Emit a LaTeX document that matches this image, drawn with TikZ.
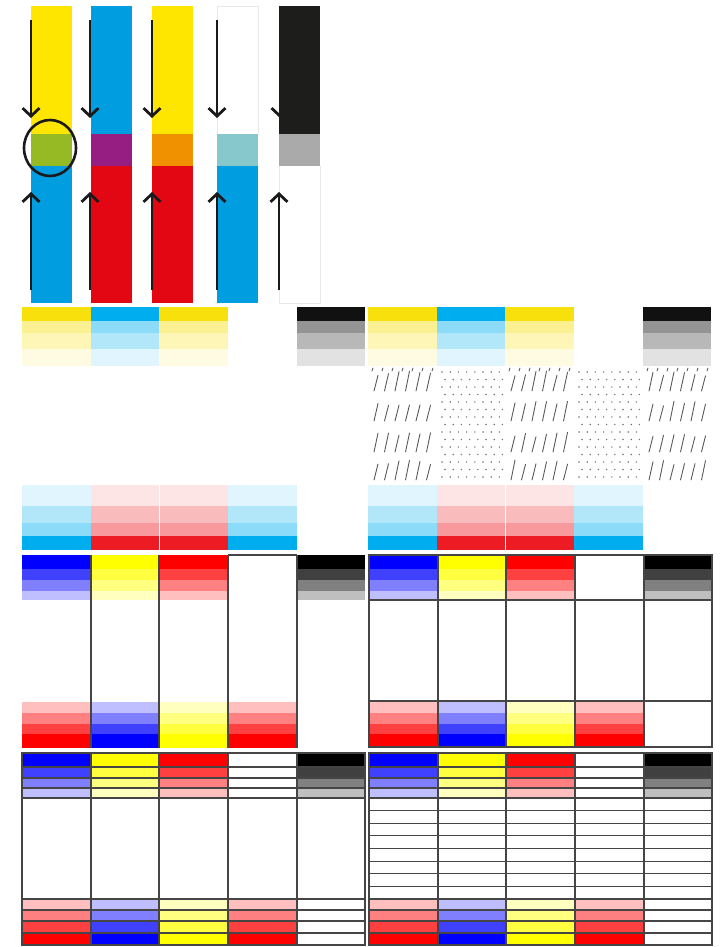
\documentclass[tikz,border=0pt]{standalone}
\usetikzlibrary{arrows.meta}
\definecolor{BarYellow}{RGB}{255,230,0}
\definecolor{BarCyan}{RGB}{0,158,224}
\definecolor{BarRed}{RGB}{227,6,19}
\definecolor{BarGreen}{RGB}{149,186,36}
\definecolor{BarPurple}{RGB}{150,30,130}
\definecolor{BarOrange}{RGB}{240,145,0}
\definecolor{BarTeal}{RGB}{135,200,205}
\definecolor{BarGray}{RGB}{170,170,170}
\definecolor{BarBlack}{RGB}{29,29,27}
\definecolor{BarInk}{RGB}{26,26,26}
\definecolor{MidYellow}{RGB}{248,224,12}
\definecolor{MidCyan}{RGB}{0,174,239}
\definecolor{MidRed}{RGB}{237,28,36}
\definecolor{MidBlack}{RGB}{17,17,17}
\definecolor{PureBlue}{RGB}{0,0,255}
\definecolor{PureYellow}{RGB}{255,255,0}
\definecolor{PureRed}{RGB}{255,0,0}
\definecolor{GridInk}{gray}{0.27}
\definecolor{HatchInk}{gray}{0.35}
\tikzset{
    chart/scene/.style={x=1pt, y=-1pt},
    chart/arrow/.style={
        draw=BarInk, line width=2.8pt,
        -{Straight Barb[length=8pt, width=17pt]}
    },
    chart/ring/.style={draw=BarInk, line width=2.6pt},
    chart/frame/.style={draw=gray!18, line width=0.6pt},
    chart/rule/.style={draw=GridInk, line width=1.1pt},
    chart/hatch/.style={draw=HatchInk, line width=0.9pt, line cap=round},
    chart/dot/.style={fill=HatchInk!85}
}
\begin{document}
\begin{tikzpicture}[chart/scene]
    \useasboundingbox (0,0) rectangle (725,947);
    \pgfmathsetseed{7}
    % five bars, two inks meeting in the middle band
    \draw[chart/arrow] (280,20) -- (280,118); % mostly under the black bar
    \foreach \xa/\upper/\meet/\lower in {31/BarYellow/BarGreen/BarCyan,
        91/BarCyan/BarPurple/BarRed, 152/BarYellow/BarOrange/BarRed,
        217/white/BarTeal/BarCyan, 279/BarBlack/BarGray/white}{
        \fill[\upper] (\xa,6) rectangle ++(41,128);
        \fill[\meet] (\xa,134) rectangle ++(41,32);
        \fill[\lower] (\xa,166) rectangle ++(41,137);
    }
    \draw[chart/frame] (217,134) |- (258,6) -- (258,134);
    \draw[chart/frame] (279,166) |- (320,303) -- (320,166);
    \draw[chart/ring] (50,148) ellipse [x radius=26, y radius=28];
    \foreach \x in {31,90,152,217}
        \draw[chart/arrow] (\x,20) -- (\x,118);
    \foreach \x in {31,90,152,217,279}
        \draw[chart/arrow] (\x,290) -- (\x,192);

    % process tints, both halves
    \def\MidTop{307/321/100, 321/333/45, 333/349/30, 349/366/12}
    \def\MidBot{485/506/12, 506/523/30, 523/536/45, 536/550/100}
    \foreach \sh in {0,346}{
        \begin{scope}[xshift=\sh]
            \foreach \xa/\xb/\ink in {22/91/MidYellow, 91/159/MidCyan,
                159/228/MidYellow, 297/365/MidBlack}
                \foreach \ya/\yb/\t in \MidTop
                    \fill[\ink!\t!white] (\xa,\ya) rectangle (\xb,\yb);
            \foreach \xa/\xb/\ink in {22/91/MidCyan, 91/159/MidRed,
                159/228/MidRed, 228/297/MidCyan}
                \foreach \ya/\yb/\t in \MidBot
                    \fill[\ink!\t!white] (\xa,\ya) rectangle (\xb,\yb);
            \draw[white, line width=0.8pt] (159,485) -- (159,550);
        \end{scope}
    }
    % screen texture on the right half only
    \begin{scope}[xshift=346]
        \foreach \xa in {22,159,297}{
            \foreach \k in {0,...,6}
                \draw[chart/hatch] ({\xa+4+10*\k},371) -- ++(1,-3);
            \foreach \yc in {382,412,443,471}
                \foreach \k in {0,...,5}
                    \draw[chart/hatch] ({\xa+6+10.5*\k},{\yc+9}) -- ++(4,{-15-5*rnd});
        }
        \foreach \xa in {91,228}
            \foreach \r in {0,...,14}
                \foreach \k in {0,...,7}
                    \fill[chart/dot] ({\xa+5+8.2*\k+mod(\r,2)*3},{372+7.5*\r}) circle (0.8);
    \end{scope}

    % pure tints, third and fourth rows
    \def\BoxTop{555/569/100, 569/580/75, 580/591/50, 591/600/25}
    \def\BoxBot{702/713/25, 713/724/50, 724/734/75, 734/748/100}
    \def\GridTop{753/767/100, 767/778/75, 778/788/50, 788/798/25}
    \def\GridBot{899/910/25, 910/921/50, 921/933/75, 933/945/100}
    \foreach \sh in {0,347}{
        \begin{scope}[xshift=\sh]
            \foreach \xa/\xb/\ink in {22/91/PureBlue, 91/159/PureYellow,
                159/228/PureRed, 297/365/black}{
                \foreach \ya/\yb/\t in \BoxTop
                    \fill[\ink!\t!white] (\xa,\ya) rectangle (\xb,\yb);
                \foreach \ya/\yb/\t in \GridTop
                    \fill[\ink!\t!white] (\xa,\ya) rectangle (\xb,\yb);
            }
            \foreach \xa/\xb/\ink in {22/91/PureRed, 91/159/PureBlue,
                159/228/PureYellow, 228/297/PureRed}{
                \foreach \ya/\yb/\t in \BoxBot
                    \fill[\ink!\t!white] (\xa,\ya) rectangle (\xb,\yb);
                \foreach \ya/\yb/\t in \GridBot
                    \fill[\ink!\t!white] (\xa,\ya) rectangle (\xb,\yb);
            }
            \foreach \x in {91,159,228,297}{
                \draw[chart/rule] (\x,555) -- (\x,748);
                \draw[chart/rule] (\x,753) -- (\x,945);
            }
            \draw[chart/rule] (22,753) rectangle (365,945);
            \foreach \y in {767,778,788,798,899,910,921,933}
                \draw[chart/rule] (22,\y) -- (365,\y);
        \end{scope}
    }
    \draw[chart/rule] (228,555) -- (297,555);
    \begin{scope}[xshift=347]
        \draw[chart/rule] (22,555) rectangle (365,747);
        \draw[chart/rule] (22,600) -- (365,600) (22,701) -- (365,701);
        \foreach \k in {1,...,7}
            \draw[chart/rule] (22,{798+12.625*\k}) -- (365,{798+12.625*\k});
    \end{scope}
\end{tikzpicture}
\end{document}
